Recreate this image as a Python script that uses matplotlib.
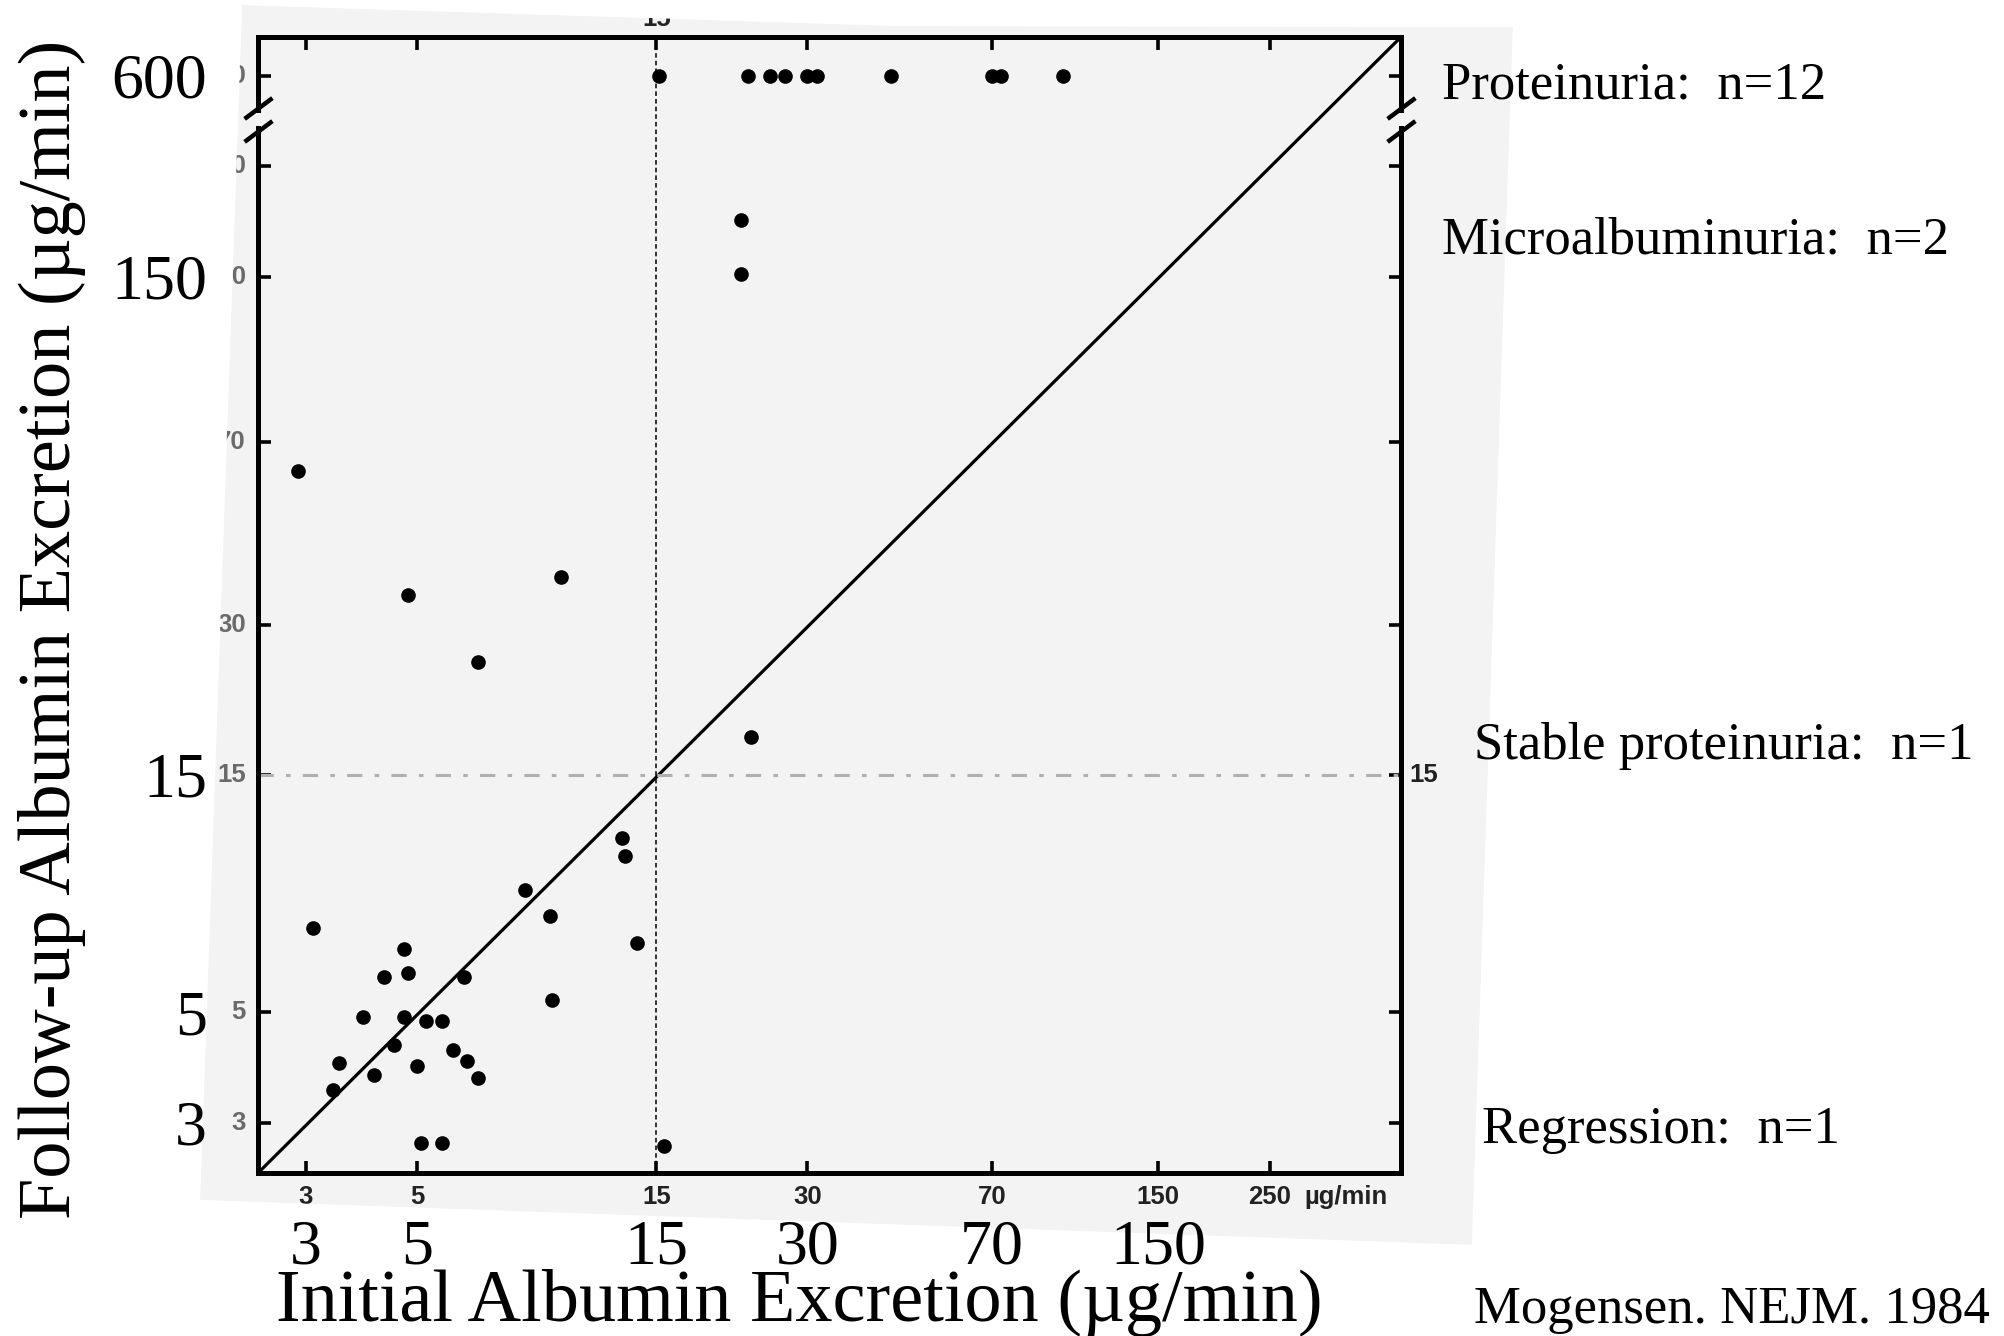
import numpy as np
import matplotlib.pyplot as plt
from matplotlib.patches import Polygon, PathPatch
from matplotlib.path import Path
from matplotlib.transforms import blended_transform_factory as blend

# albumin excretion (ug/min): initial value vs. follow-up value
base_initial = [2.9, 4.8, 9.7, 6.6, 12.8, 13.0, 8.2, 9.2, 13.7, 3.1, 4.7, 4.3, 4.8,
                6.2, 9.3, 3.9, 4.7, 5.2, 5.6, 4.5, 5.9, 6.3, 3.5, 5.0, 4.1, 6.6,
                3.4, 5.1, 5.6]
base_followup = [61.0, 34.4, 37.4, 25.3, 11.2, 10.3, 8.8, 7.8, 6.9, 7.4, 6.7, 5.9, 6.0,
                 5.9, 5.3, 4.9, 4.9, 4.8, 4.8, 4.3, 4.2, 4.0, 3.95, 3.9, 3.75, 3.7,
                 3.5, 2.73, 2.73]
prot_initial = [15.2, 22.8, 25.3, 27.0, 30.0, 31.4, 44.0, 70.0, 73.0, 96.7]
prot_followup = [600, 600, 600, 600, 600, 600, 600, 600, 600, 600]
micro_initial = [22.1, 22.1]
micro_followup = [195, 152]
stable_initial = [23.1]
stable_followup = [17.9]
regress_initial = [15.5]
regress_followup = [2.7]

x_ticks = [3, 5, 15, 30, 70, 150, 250]
y_ticks = [3, 5, 15, 30, 70, 150, 250, 600]
x_big = [3, 5, 15, 30, 70, 150]
y_big = [3, 5, 15, 150, 600]
outcome_text = ["Proteinuria:  n=12", "Microalbuminuria:  n=2",
                "Stable proteinuria:  n=1", "Regression:  n=1"]
source_text = "Mogensen. NEJM. 1984"

W, H = 2004, 1336
PAPER = '#f3f3f3'
SERIF = 'Liberation Serif'


def fpx(x, y):
    return (x / W, 1 - y / H)


# log axis with the range above 300 squeezed (axis break)
T0 = np.log10(300)
K = 0.342


def fwd(y):
    t = np.log10(np.clip(np.asarray(y, float), 1e-9, None))
    return np.where(t <= T0, t, T0 + (t - T0) * K)


def inv(t):
    t = np.asarray(t, float)
    return np.where(t <= T0, 10 ** t, 10 ** (T0 + (t - T0) / K))


fig = plt.figure(figsize=(W / 100, H / 100), dpi=100)
fig.patch.set_facecolor('white')

# outline of the pasted sheet
corners = [fpx(242, 5), fpx(900, 26), fpx(1513, 27), fpx(1472, 1245), fpx(200, 1200)]
fig.add_artist(Polygon(corners, closed=True, transform=fig.transFigure,
                       facecolor=PAPER, edgecolor='none', zorder=-1))

ax = fig.add_axes([258 / W, 1 - 1173 / H, 1143 / W, 1136 / H])
ax.set_facecolor('none')
ax.set_xscale('log')
ax.set_yscale('function', functions=(fwd, inv))
ax.set_xlim(2.41, 457)
ax.set_ylim(2.38, 1010)

for s in ax.spines.values():
    s.set_linewidth(3.6)
ax.set_xticks(x_ticks)
ax.set_yticks(y_ticks)
ax.xaxis.set_minor_locator(plt.NullLocator())
ax.yaxis.set_minor_locator(plt.NullLocator())
ax.tick_params(which='both', direction='in', length=9, width=2.6, top=True, right=True,
               labelbottom=False, labelleft=False)

# reference lines
ax.plot([0, 1], [0, 1], transform=ax.transAxes, color='black', lw=2.3)
ax.axvline(15, color='black', lw=1.1, dashes=(3, 2))
ax.axhline(15, color='#b0b0b0', lw=2.2, dashes=(5, 4, 1.5, 4))

# points
for xs, ys in [(base_initial, base_followup), (prot_initial, prot_followup),
               (micro_initial, micro_followup), (stable_initial, stable_followup),
               (regress_initial, regress_followup)]:
    ax.plot(xs, ys, 'o', color='black', ms=9.5, mec='black', clip_on=False, zorder=4)

# axis break marks on both sides
lo, hi = 0.9176, 0.9373
for xa in (0, 1):
    ax.plot([xa, xa], [lo + 0.004, hi - 0.004], transform=ax.transAxes, color=PAPER,
            lw=6, clip_on=False, zorder=5, solid_capstyle='butt')
    ax.plot([xa, xa], [lo, hi], transform=ax.transAxes, ls='none',
            marker=[(-1, -0.75), (1, 0.75)], ms=20, mew=3.2, mec='black',
            clip_on=False, zorder=6)

# small printed labels of the original figure
scan_font = dict(family='Liberation Sans', weight='bold', fontsize=18.5)
tx = blend(ax.transData, ax.transAxes)
ty = blend(ax.transAxes, ax.transData)
for v in x_ticks:
    ax.text(v, -12 / 1136, str(v), transform=tx, ha='center', va='top',
            color='#222222', **scan_font)
ax.text(1.0 - 55 / 1143, -12 / 1136, 'µg/min', transform=ax.transAxes, ha='center',
        va='top', color='#222222', **scan_font)
for v in y_ticks:
    ax.text(-12 / 1143, v, str(v), transform=ty, ha='right', va='center',
            color='#6a6a6a', **scan_font)
ax.text(1 + 8 / 1143, 15, '15', transform=ty, ha='left', va='center',
        color='#222222', **scan_font)
ax.text(15, 1 + 6 / 1136, '15', transform=tx, ha='center', va='bottom',
        color='#222222', **scan_font)

# white surround: everything outside the sheet
outer = [(0, 0), (0, 1), (1, 1), (1, 0), (0, 0)]
inner = corners[::-1] + [corners[-1]]
verts = outer + inner
codes = ([Path.MOVETO] + [Path.LINETO] * 3 + [Path.CLOSEPOLY]
         + [Path.MOVETO] + [Path.LINETO] * (len(corners) - 1) + [Path.CLOSEPOLY])
fig.add_artist(PathPatch(Path(verts, codes), transform=fig.transFigure,
                         facecolor='white', edgecolor='none', zorder=2))

# large axis numbers and titles
for v in x_big:
    fig.text(v, fpx(0, 1264)[1], str(v), transform=blend(ax.transData, fig.transFigure),
             ha='center', va='baseline', family=SERIF, fontsize=46, zorder=5)
for v in y_big:
    fig.text(fpx(207, 0)[0], v, str(v), transform=blend(fig.transFigure, ax.transData),
             ha='right', va='center_baseline', family=SERIF, fontsize=46, zorder=5)

fig.text(*fpx(799, 1321), 'Initial Albumin Excretion (µg/min)', ha='center',
         va='baseline', family=SERIF, fontsize=53.5, zorder=5)
fig.text(*fpx(52, 629), 'Follow-up Albumin Excretion (µg/min)', rotation=90,
         ha='center', va='center', family=SERIF, fontsize=53.5, zorder=5)

for txt, (px, py) in zip(outcome_text, [(1442, 80), (1442, 235), (1474, 741), (1482, 1125)]):
    fig.text(*fpx(px, py), txt, ha='left', va='center_baseline', family=SERIF,
             fontsize=38, zorder=5)
fig.text(*fpx(1474, 1304), source_text, ha='left', va='center_baseline', family=SERIF,
         fontsize=38, zorder=5)

fig.savefig('out.png', dpi=100)
